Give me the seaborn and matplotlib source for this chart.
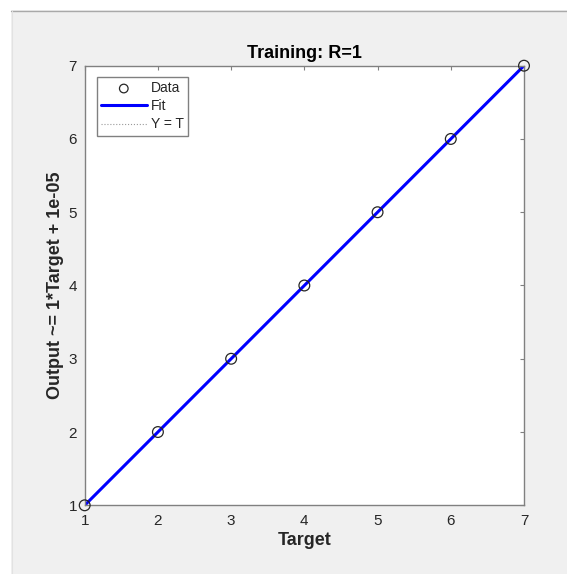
import numpy as np
import pandas as pd
import seaborn as sns
import matplotlib.pyplot as plt
from matplotlib.patches import Rectangle
from matplotlib.lines import Line2D

# values
target = [1, 2, 3, 4, 5, 6, 7]
output = [1, 2, 3, 4, 5, 6, 7]
fit_x = [1, 7]
fit_y = [1.00001, 7.00001]
yt_x = [1, 7]
yt_y = [1, 7]
ticks = [1, 2, 3, 4, 5, 6, 7]

sns.set_theme(style="white")
plt.rcParams['font.family'] = ['Liberation Sans', 'DejaVu Sans']
plt.rcParams['text.color'] = '#262626'

fig = plt.figure(figsize=(5.67, 5.74), dpi=100)
fig.patch.set_facecolor('white')

# grey matlab-like window panel
fig.patches.append(Rectangle((11 / 567, 0), 1, 1 - 10 / 574, transform=fig.transFigure,
                             fc='#f0f0f0', ec='none', zorder=-10))
fig.lines.append(Line2D([11 / 567, 1], [1 - 10.5 / 574] * 2, transform=fig.transFigure,
                        color='#a9a9a9', lw=1))
fig.lines.append(Line2D([11.5 / 567] * 2, [0, 1 - 10.5 / 574], transform=fig.transFigure,
                        color='#e2e2e2', lw=0.8))

ax = fig.add_axes([84.7 / 567, 1 - 505.3 / 574, (524 - 84.7) / 567, (505.3 - 65.7) / 574])
ax.set_facecolor('white')

df_yt = pd.DataFrame({'x': yt_x, 'y': yt_y})
df_fit = pd.DataFrame({'x': fit_x, 'y': fit_y})
df_data = pd.DataFrame({'target': target, 'output': output})

sns.lineplot(data=df_yt, x='x', y='y', ax=ax, color='#9a9a9a', lw=0.8,
             linestyle=':', label='Y = T', zorder=1)
sns.lineplot(data=df_fit, x='x', y='y', ax=ax, color='#0000ff', lw=2.2,
             label='Fit', zorder=2)
sns.scatterplot(data=df_data, x='target', y='output', ax=ax, marker='o', s=60,
                facecolor='none', edgecolor='#262626', linewidth=0.9,
                label='Data', zorder=3, clip_on=False)

ax.set_xlim(1, 7)
ax.set_ylim(1, 7)
ax.set_xticks(ticks)
ax.set_yticks(ticks)

for s in ax.spines.values():
    s.set_color('#808080')
    s.set_linewidth(1)

ax.tick_params(direction='in', length=3, width=0.8, color='#808080',
               top=True, right=True, labelsize=11, labelcolor='#262626')
ax.tick_params(axis='x', pad=6)
ax.tick_params(axis='y', pad=5.5)

ax.set_title('Training: R=1', fontsize=13, fontweight='bold', color='black', pad=5.3)
ax.set_xlabel('Target', fontsize=13, fontweight='bold', color='#262626', labelpad=3.4)
ax.set_ylabel('Output ~= 1*Target + 1e-05', fontsize=13, fontweight='bold',
              color='#262626', labelpad=3.3)

handles, labels = ax.get_legend_handles_labels()
order = [labels.index('Data'), labels.index('Fit'), labels.index('Y = T')]
leg = ax.legend([handles[i] for i in order], [labels[i] for i in order],
                loc='upper left', bbox_to_anchor=(12 / 439.3, 1 - 11.3 / 439.6),
                borderaxespad=0, fontsize=10, frameon=True, fancybox=False,
                handlelength=3.3, handletextpad=0.3, labelspacing=0.3,
                borderpad=0.3, framealpha=1, markerscale=0.8)
leg.get_frame().set_edgecolor('#808080')
leg.get_frame().set_linewidth(1)

plt.savefig('out.png', dpi=100)
